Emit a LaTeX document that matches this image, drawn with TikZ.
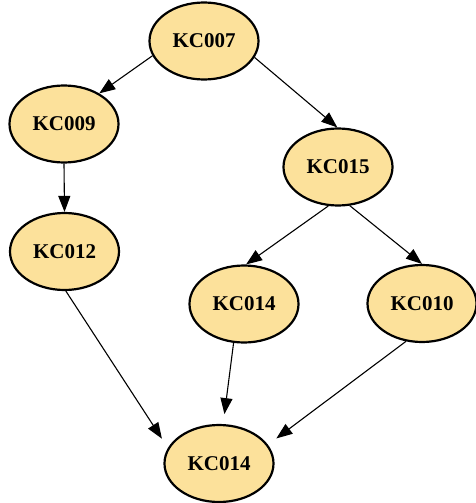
\documentclass[tikz,border=0pt]{standalone}
\usepackage{fontspec}
\setmainfont{Liberation Serif}
\usetikzlibrary{arrows.meta,shapes.geometric}
\definecolor{nodefill}{RGB}{252,225,155}
\tikzset{
  kc/.style={ellipse, draw=black, line width=2.2pt, fill=nodefill,
    minimum width=109pt, minimum height=77pt, inner sep=0pt,
    font=\fontsize{21}{24}\selectfont\bfseries},
  edge/.style={line width=1.1pt, -{Triangle[length=16pt,width=12pt]}}
}
\begin{document}
\begin{tikzpicture}[x=1pt,y=-1pt]
\useasboundingbox (0,0) rectangle (475,503);
\node[kc] (kc007) at (204,41) {KC007};
\node[kc] (kc009) at (64,124) {KC009};
\node[kc] (kc012) at (64.5,251.5) {KC012};
\node[kc] (kc015) at (338,167) {KC015};
\node[kc] (kc014m) at (244,304) {KC014};
\node[kc] (kc010) at (422,303.5) {KC010};
\node[kc] (kc014b) at (219,463.5) {KC014};
\draw[edge] (kc007.196) -- (kc009.41);
\draw[edge] (kc007.342) -- (kc015.91);
\draw[edge] (kc009.south) -- (kc012.north);
\draw[edge] (kc015.256) -- (kc014m.87);
\draw[edge] (kc015.287) -- (kc010.north);
\draw[edge, shorten >=11pt] (kc012.272) -- (kc014b.163);
\draw[edge, shorten >=10pt] (kc014m.255) -- (kc014b.84);
\draw[edge, shorten >=10.5pt] (kc010.247) -- (kc014b.21.6);
\end{tikzpicture}
\end{document}
